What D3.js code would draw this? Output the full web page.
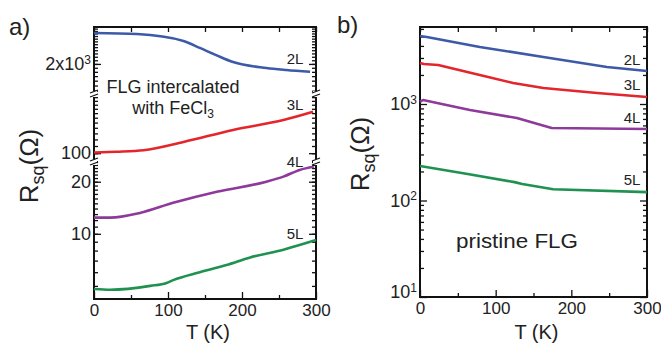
<!DOCTYPE html>
<html>
<head>
<meta charset="utf-8">
<script src="https://cdn.jsdelivr.net/npm/d3@7"></script>
<style>
  body { margin: 0; background: #fff; }
  text { font-family: "Liberation Sans", Arial, sans-serif; fill: #222; }
</style>
</head>
<body>
<svg id="fig" width="661" height="345"></svg>
<script>

// ---- data ----
var layers = ["2L", "3L", "4L", "5L"]
var colors = ["#3d5aa8", "#e3262b", "#8d3a9a", "#1f9150"]

// a) FLG intercalated with FeCl3
var a2L_T = [0, 58, 121, 143, 165, 188, 233, 260, 292]
var a2L_R = [3020, 2980, 2715, 2475, 2250, 2050, 1895, 1845, 1800]
var a3L_T = [0, 30, 67, 121, 188, 256, 296]
var a3L_R = [101, 102, 104, 116, 136, 155, 173]
var a4L_T = [0, 22, 62, 107, 166, 233, 256, 278, 297]
var a4L_R = [12.4, 12.4, 13.2, 15.1, 17.5, 20.0, 21.4, 23.4, 24.4]
var a5L_T = [0, 22, 76, 98, 107, 143, 179, 211, 256, 300]
var a5L_R = [4.8, 4.75, 5.0, 5.2, 5.4, 6.0, 6.6, 7.3, 8.1, 9.2]

// b) pristine FLG
var b2L_T = [0, 9, 79, 163, 247, 300]
var b2L_R = [5060, 4940, 3900, 3070, 2415, 2200]
var b3L_T = [0, 5, 24, 79, 123, 163, 234, 300]
var b3L_R = [2660, 2600, 2535, 2000, 1650, 1465, 1300, 1180]
var b4L_T = [0, 4, 66, 128, 174, 300]
var b4L_R = [1050, 1100, 866, 716, 564, 551]
var b5L_T = [0, 63, 125, 135, 176, 300]
var b5L_R = [228, 188, 155, 148, 131, 122]

// axes
var T_major = [0, 100, 200, 300]
var T_minor = [50, 150, 250]
var a_segDomain = [[1340, 3270], [89, 219], [4.2, 26]]
var a_segMajor = [[2000], [100], [10, 20]]
var a_segMinor = [d3.range(1400, 3300, 100), d3.range(90, 220, 10), d3.range(5, 27, 1)]
var b_domain = [10, 6280]
var b_major = [10, 100, 1000]

var svg = d3.select("#fig")

function zip(T, R){
  return T.map((t, i) => ({T: t, R: R[i]}))
}

function style_axis(g, fs){
  g.select(".domain").remove()
  g.attr("font-family", null).attr("font-size", null)
  g.selectAll(".tick line").attr("stroke", "#111").attr("stroke-width", 1.3)
  g.selectAll(".tick text").style("font-size", fs + "px").attr("fill", "#222")
}

// superscript label like 10^3 or 2x10^3
function pow_label(sel, base, exp){
  sel.text(null)
  sel.append("tspan").text(base)
  sel.append("tspan").attr("dy", "-0.55em").style("font-size", "12px").text(exp)
}

function x_axes(g, x, top, bottom){
  var ax = g.append("g").attr("transform", "translate(0," + bottom + ")")
    .call(d3.axisBottom(x).tickValues(T_major).tickSize(-7).tickPadding(5).tickFormat(d3.format("d")))
  style_axis(ax, 17)
  var ax2 = g.append("g").attr("transform", "translate(0," + bottom + ")")
    .call(d3.axisBottom(x).tickValues(T_minor).tickSize(-4).tickFormat(""))
  style_axis(ax2, 17)
  var ax3 = g.append("g").attr("transform", "translate(0," + top + ")")
    .call(d3.axisTop(x).tickValues(T_major.concat(T_minor)).tickSize(-5).tickFormat(""))
  style_axis(ax3, 17)
}

function y_ticks(g, y, left, right, major, minor, fmt){
  var ax = g.append("g").attr("transform", "translate(" + left + ",0)")
    .call(d3.axisLeft(y).tickValues(major).tickSize(-7).tickPadding(3).tickFormat(fmt))
  style_axis(ax, 18)
  var ax2 = g.append("g").attr("transform", "translate(" + left + ",0)")
    .call(d3.axisLeft(y).tickValues(minor).tickSize(-4).tickFormat(""))
  style_axis(ax2, 18)
  var ax3 = g.append("g").attr("transform", "translate(" + right + ",0)")
    .call(d3.axisRight(y).tickValues(major).tickSize(-7).tickFormat(""))
  style_axis(ax3, 18)
  var ax4 = g.append("g").attr("transform", "translate(" + right + ",0)")
    .call(d3.axisRight(y).tickValues(minor).tickSize(-4).tickFormat(""))
  style_axis(ax4, 18)
  return ax
}

function draw_curve(g, data, x, y, color, curve){
  g.append("path")
    .datum(data)
    .attr("fill", "none")
    .attr("stroke", color)
    .attr("stroke-width", 2.6)
    .attr("stroke-linejoin", "round")
    .attr("d", d3.line().x(d => x(d.T)).y(d => y(d.R)).curve(curve))
}

function y_label(g, cx, cy){
  var t = g.append("text")
    .attr("transform", "translate(" + cx + "," + cy + ") rotate(-90)")
    .attr("text-anchor", "middle")
    .style("font-size", "26px")
  t.append("tspan").text("R")
  t.append("tspan").attr("dy", 6).style("font-size", "18px").text("sq")
  t.append("tspan").attr("dy", -6).text("(Ω)")
}

function break_mark(g, x, y){
  g.append("rect").attr("x", x - 3).attr("y", y - 3).attr("width", 6).attr("height", 6).attr("fill", "#fff")
  g.append("line").attr("x1", x - 4).attr("y1", y - 1).attr("x2", x + 4).attr("y2", y - 4)
    .attr("stroke", "#111").attr("stroke-width", 1.3)
  g.append("line").attr("x1", x - 4).attr("y1", y + 3).attr("x2", x + 4).attr("y2", y)
    .attr("stroke", "#111").attr("stroke-width", 1.3)
}

function layer_labels(g, xpos, ys){
  layers.forEach((l, i) => {
    g.append("text").attr("x", xpos).attr("y", ys[i])
      .attr("text-anchor", "middle").style("font-size", "15px").attr("fill", "#333").text(l)
  })
}


// ---------------- panel a ----------------
var ga = svg.append("g")
var a_left = 94, a_right = 316, a_top = 27, a_bottom = 299
var a_breaks = [94, 162]
var a_ranges = [[a_breaks[0], a_top], [a_breaks[1], a_breaks[0]], [a_bottom, a_breaks[1]]]

var xa = d3.scaleLinear().domain([0, 300]).range([a_left, a_right])
var ya = a_segDomain.map((d, i) => d3.scaleLog().domain(d).range(a_ranges[i]))

x_axes(ga, xa, a_top, a_bottom)

var a_fmt = [
  d => "2x10^3",
  d3.format("d"),
  d3.format("d")
]
ya.forEach((y, i) => {
  var ax = y_ticks(ga, y, a_left, a_right, a_segMajor[i], a_segMinor[i], a_fmt[i])
  if (i == 0)
    ax.selectAll(".tick text").each(function(){ pow_label(d3.select(this), "2x10", "3") })
})

ga.append("rect")
  .attr("x", a_left).attr("y", a_top)
  .attr("width", a_right - a_left).attr("height", a_bottom - a_top)
  .attr("fill", "none").attr("stroke", "#111").attr("stroke-width", 2)

a_breaks.forEach(b => { break_mark(ga, a_left, b); break_mark(ga, a_right, b) })

var a_series = [zip(a2L_T, a2L_R), zip(a3L_T, a3L_R), zip(a4L_T, a4L_R), zip(a5L_T, a5L_R)]
var a_seg_of = [0, 1, 2, 2]
a_series.forEach((s, i) => draw_curve(ga, s, xa, ya[a_seg_of[i]], colors[i], d3.curveMonotoneX))

layer_labels(ga, 295, [64, 110, 167, 239])

var ta = ga.append("text").attr("x", 173).attr("y", 93).attr("text-anchor", "middle")
  .style("font-size", "18px").attr("fill", "#333").text("FLG intercalated")
var tb = ga.append("text").attr("x", 173).attr("y", 114).attr("text-anchor", "middle")
  .style("font-size", "18px").attr("fill", "#333")
tb.append("tspan").text("with FeCl")
tb.append("tspan").attr("dy", 4).style("font-size", "12px").text("3")

y_label(ga, 38, 166)

ga.append("text").attr("x", 9).attr("y", 35).style("font-size", "24px").text("a)")

ga.append("text").attr("x", (a_left + a_right) / 2 + 3).attr("y", 339).attr("text-anchor", "middle")
  .style("font-size", "20px").text("T (K)")


// ---------------- panel b ----------------
var gb = svg.append("g")
var b_left = 420, b_right = 647, b_top = 27, b_bottom = 297

var xb = d3.scaleLinear().domain([0, 300]).range([b_left, b_right])
var yb = d3.scaleLog().domain(b_domain).range([b_bottom, b_top])

var b_minor = []
b_major.forEach(m => d3.range(2, 10).forEach(k => { if (m * k <= b_domain[1]) b_minor.push(m * k) }))

x_axes(gb, xb, b_top, b_bottom)
var axb = y_ticks(gb, yb, b_left, b_right, b_major, b_minor, d3.format("d"))
axb.selectAll(".tick text").each(function(d){
  pow_label(d3.select(this), "10", String(Math.round(Math.log10(d))))
})
axb.selectAll(".tick text").filter(d => d == 10).attr("dy", "0.05em")

gb.append("rect")
  .attr("x", b_left).attr("y", b_top)
  .attr("width", b_right - b_left).attr("height", b_bottom - b_top)
  .attr("fill", "none").attr("stroke", "#111").attr("stroke-width", 2)

var b_series = [zip(b2L_T, b2L_R), zip(b3L_T, b3L_R), zip(b4L_T, b4L_R), zip(b5L_T, b5L_R)]
b_series.forEach((s, i) => draw_curve(gb, s, xb, yb, colors[i], d3.curveLinear))

layer_labels(gb, 632, [65, 90, 123, 185])

gb.append("text").attr("x", 517).attr("y", 248).attr("text-anchor", "middle")
  .attr("textLength", 122).attr("lengthAdjust", "spacingAndGlyphs")
  .style("font-size", "20px").attr("fill", "#333").text("pristine FLG")

y_label(gb, 369, 154)

gb.append("text").attr("x", 337).attr("y", 33).style("font-size", "24px").text("b)")

gb.append("text").attr("x", (b_left + b_right) / 2 + 3).attr("y", 339).attr("text-anchor", "middle")
  .style("font-size", "20px").text("T (K)")

</script>
</body>
</html>
